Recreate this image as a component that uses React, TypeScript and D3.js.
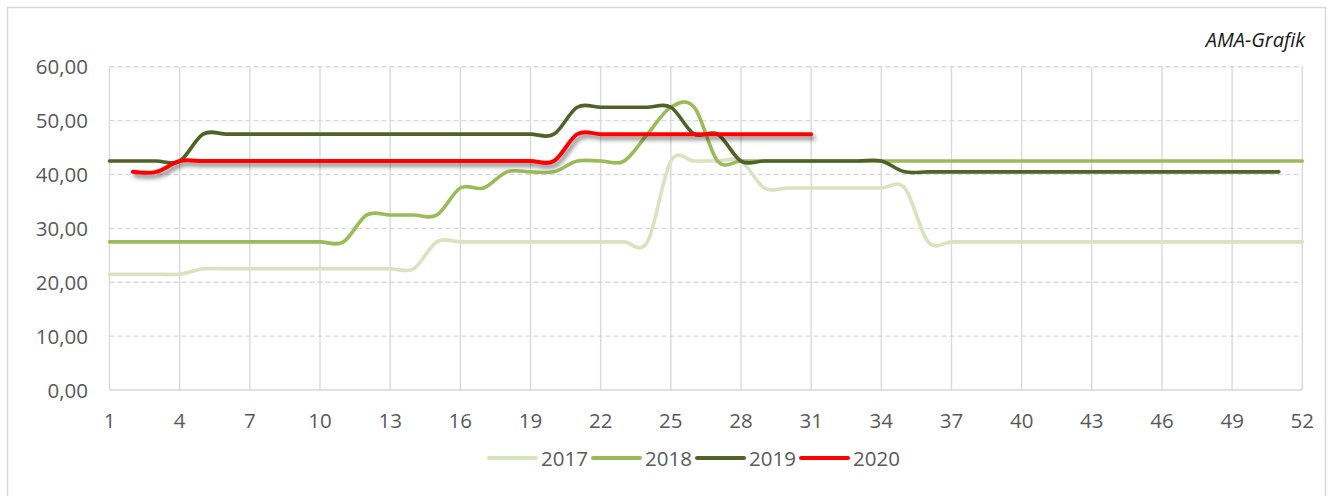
import React from "react";
import * as d3 from "d3";

const weeks: number[] = [
  1, 2, 3, 4, 5, 6, 7, 8, 9, 10, 11, 12, 13, 14, 15, 16, 17, 18, 19, 20, 21, 22, 23, 24, 25, 26,
  27, 28, 29, 30, 31, 32, 33, 34, 35, 36, 37, 38, 39, 40, 41, 42, 43, 44, 45, 46, 47, 48, 49, 50, 51, 52,
];

const xTickLabels: number[] = [1, 4, 7, 10, 13, 16, 19, 22, 25, 28, 31, 34, 37, 40, 43, 46, 49, 52];
const yTickValues: number[] = [0, 10, 20, 30, 40, 50, 60];

type V = number | null;

const v2017: V[] = [
  21.5, 21.5, 21.5, 21.5,
  22.5, 22.5, 22.5, 22.5, 22.5, 22.5, 22.5, 22.5, 22.5, 22.5,
  27.5, 27.5, 27.5, 27.5, 27.5, 27.5, 27.5, 27.5, 27.5, 27.5,
  42.5, 42.5, 42.5, 42.5,
  37.5, 37.5, 37.5, 37.5, 37.5, 37.5, 37.5,
  27.5, 27.5, 27.5, 27.5, 27.5, 27.5, 27.5, 27.5, 27.5, 27.5, 27.5, 27.5, 27.5, 27.5, 27.5, 27.5, 27.5,
];

const v2018: V[] = [
  27.5, 27.5, 27.5, 27.5, 27.5, 27.5, 27.5, 27.5, 27.5, 27.5, 27.5,
  32.5, 32.5, 32.5, 32.5,
  37.5, 37.5,
  40.5, 40.5, 40.5,
  42.5, 42.5, 42.5,
  47.5,
  52.5, 52.5,
  42.5, 42.5, 42.5, 42.5, 42.5, 42.5, 42.5, 42.5, 42.5, 42.5, 42.5, 42.5, 42.5, 42.5, 42.5, 42.5, 42.5,
  42.5, 42.5, 42.5, 42.5, 42.5, 42.5, 42.5, 42.5, 42.5,
];

const v2019: V[] = [
  42.5, 42.5, 42.5, 42.5,
  47.5, 47.5, 47.5, 47.5, 47.5, 47.5, 47.5, 47.5, 47.5, 47.5, 47.5, 47.5, 47.5, 47.5, 47.5, 47.5,
  52.5, 52.5, 52.5, 52.5, 52.5,
  47.5, 47.5,
  42.5, 42.5, 42.5, 42.5, 42.5, 42.5, 42.5,
  40.5, 40.5, 40.5, 40.5, 40.5, 40.5, 40.5, 40.5, 40.5, 40.5, 40.5, 40.5, 40.5, 40.5, 40.5, 40.5, 40.5,
  null,
];

const v2020: V[] = [
  null,
  40.5, 40.5,
  42.5, 42.5, 42.5, 42.5, 42.5, 42.5, 42.5, 42.5, 42.5, 42.5, 42.5, 42.5, 42.5, 42.5, 42.5, 42.5, 42.5,
  47.5, 47.5, 47.5, 47.5, 47.5, 47.5, 47.5, 47.5, 47.5, 47.5, 47.5,
  null, null, null, null, null, null, null, null, null, null, null, null, null, null, null, null, null,
  null, null, null, null,
];

const seriesNames: string[] = ["2017", "2018", "2019", "2020"];
const seriesValues: V[][] = [v2017, v2018, v2019, v2020];
const seriesColors: string[] = ["#D7E4BD", "#9BBB59", "#4F6228", "#FF0000"];

const W = 1333;
const H = 496;
const PLOT = { left: 109.5, right: 1302.3, top: 66.8, bottom: 390 };
const FONT = "'Open Sans', 'Noto Sans', sans-serif";
const TEXT = "#595959";
const GRID = "#D9D9D9";

export default function App() {
  const x = d3.scaleLinear().domain([1, 52]).range([PLOT.left, PLOT.right]);
  const y = d3.scaleLinear().domain([0, 60]).range([PLOT.bottom, PLOT.top]);
  const fmt = (v: number) => d3.format(".2f")(v).replace(".", ",");

  const line = d3
    .line<{ w: number; v: V }>()
    .defined((d) => d.v !== null)
    .x((d) => x(d.w))
    .y((d) => y(d.v as number))
    .curve(d3.curveCardinal.tension(0));

  const legendStart = 489;
  const legendStep = 104;
  const legendY = 458;

  return (
    <svg
      width={W}
      height={H}
      viewBox={`0 0 ${W} ${H}`}
      style={{ position: "absolute", left: 0, top: 0, display: "block", background: "#fff" }}
    >
      <defs>
        <filter id="redShadow" x="-5%" y="-50%" width="110%" height="200%">
          <feDropShadow dx="2.5" dy="3.5" stdDeviation="2.2" floodColor="#000" floodOpacity="0.5" />
        </filter>
      </defs>
      <rect x={7.5} y={7.5} width={1318} height={500} fill="#fff" stroke={GRID} strokeWidth={1.5} />

      <text
        x={1305}
        y={47}
        textAnchor="end"
        fontFamily={FONT}
        fontStyle="italic"
        fontSize={20}
        fill="#1a1a1a"
      >
        AMA-Grafik
      </text>

      {yTickValues
        .filter((v) => v > 0)
        .map((v) => (
          <line
            key={`h${v}`}
            x1={PLOT.left}
            x2={PLOT.right}
            y1={y(v)}
            y2={y(v)}
            stroke={GRID}
            strokeWidth={1.4}
            strokeDasharray="5,3"
          />
        ))}
      {xTickLabels.map((w) => (
        <line
          key={`v${w}`}
          x1={x(w)}
          x2={x(w)}
          y1={PLOT.top}
          y2={PLOT.bottom}
          stroke={GRID}
          strokeWidth={1.4}
        />
      ))}
      <line x1={PLOT.left} x2={PLOT.right} y1={PLOT.bottom} y2={PLOT.bottom} stroke={GRID} strokeWidth={1.6} />

      {yTickValues.map((v) => (
        <text
          key={`yl${v}`}
          x={88}
          y={y(v) + 7.5}
          textAnchor="end"
          fontFamily={FONT}
          fontSize={20.5}
          fill={TEXT}
        >
          {fmt(v)}
        </text>
      ))}
      {xTickLabels.map((w) => (
        <text
          key={`xl${w}`}
          x={x(w)}
          y={428}
          textAnchor="middle"
          fontFamily={FONT}
          fontSize={20.5}
          fill={TEXT}
        >
          {w}
        </text>
      ))}

      {seriesValues.map((vals, i) => {
        const pts = weeks.map((w, j) => ({ w, v: vals[j] }));
        return (
          <path
            key={seriesNames[i]}
            d={line(pts) || ""}
            fill="none"
            stroke={seriesColors[i]}
            strokeWidth={i === 3 ? 4 : 3.6}
            strokeLinecap="round"
            strokeLinejoin="round"
            filter={i === 3 ? "url(#redShadow)" : undefined}
          />
        );
      })}

      {seriesNames.map((name, i) => {
        const lx = legendStart + i * legendStep;
        return (
          <g key={`lg${name}`}>
            <line
              x1={lx}
              x2={lx + 47}
              y1={legendY}
              y2={legendY}
              stroke={seriesColors[i]}
              strokeWidth={4}
              strokeLinecap="round"
            />
            <text x={lx + 52} y={legendY + 7.5} fontFamily={FONT} fontSize={20.5} fill={TEXT}>
              {name}
            </text>
          </g>
        );
      })}
    </svg>
  );
}
